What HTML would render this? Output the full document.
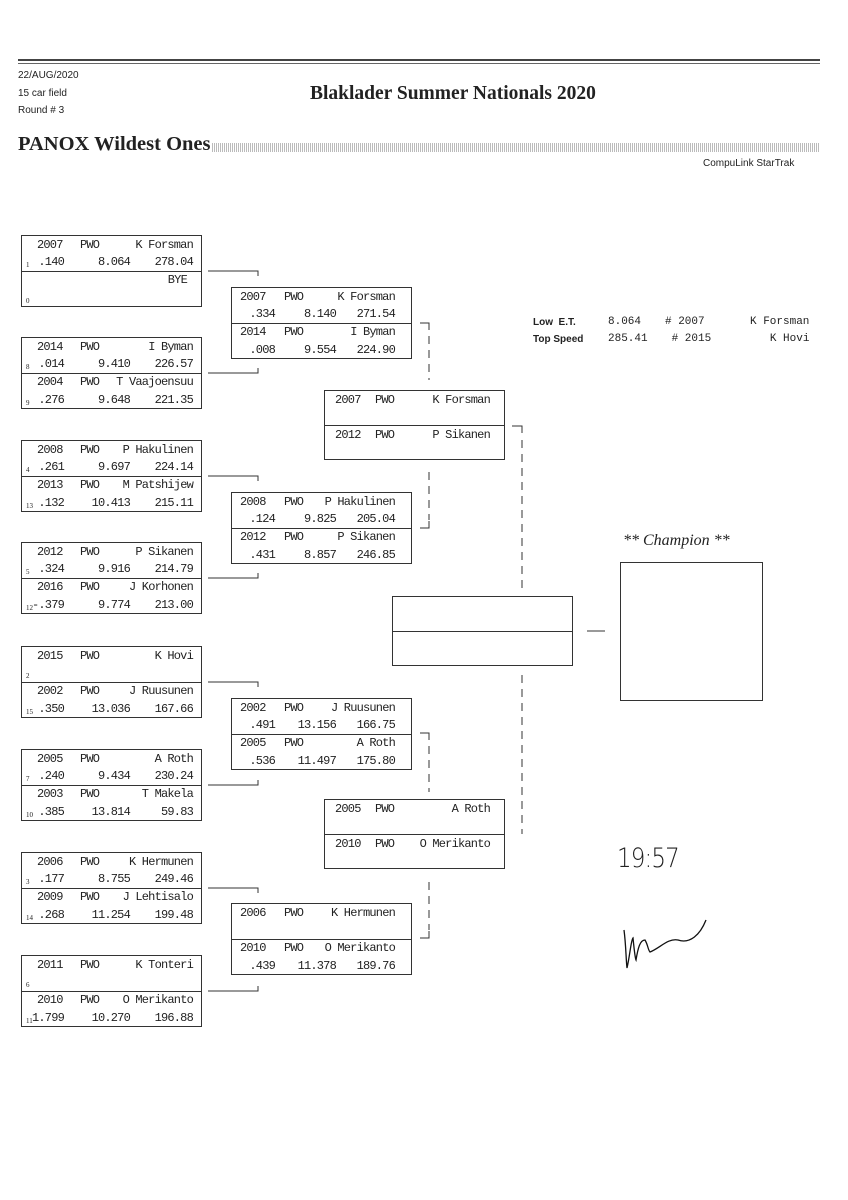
<!DOCTYPE html>
<html><head><meta charset="utf-8"><style>
body{margin:0;width:848px;height:1200px;background:#fff;position:relative;overflow:hidden;color:#222}
.a{position:absolute;white-space:nowrap}
.b{position:absolute;border:1px solid #333;width:179px;height:70px;font-family:"Liberation Mono",monospace;font-size:12px;letter-spacing:-0.8px}
.b .d{position:absolute;left:0;right:0;top:35px;border-top:1px solid #333}
.b span{position:absolute;white-space:nowrap;line-height:14px}
.s{font-family:"Liberation Serif",serif;font-size:7px!important;letter-spacing:0}
.hd{font-family:"Liberation Sans",sans-serif;font-size:10px}
</style></head><body>
<div class="a" style="left:18px;top:59px;width:802px;border-top:2px solid #444"></div>
<div class="a" style="left:18px;top:63px;width:802px;border-top:1px solid #666"></div>
<div class="a hd" style="left:18px;top:70px">22/AUG/2020</div>
<div class="a hd" style="left:18px;top:88px">15 car field</div>
<div class="a hd" style="left:18px;top:105px">Round # 3</div>
<div class="a" style="left:310px;top:83px;font-family:'Liberation Serif',serif;font-weight:bold;font-size:19.5px">Blaklader Summer Nationals 2020</div>
<div class="a" style="left:18px;top:133px;font-family:'Liberation Serif',serif;font-weight:bold;font-size:20.5px">PANOX Wildest Ones</div>
<div class="a" style="left:212px;top:143px;width:608px;height:9px;background:repeating-linear-gradient(90deg,#bbb 0 1px,#fff 1px 2px)"></div>
<div class="a hd" style="left:703px;top:158px">CompuLink StarTrak</div>

<div class="a" style="left:533px;top:314px;font-family:'Liberation Sans',sans-serif;font-weight:bold;font-size:10px;line-height:17px">Low&nbsp; E.T.<br>Top Speed</div>
<div class="a" style="left:608px;top:314px;font-family:'Liberation Mono',monospace;font-size:11px;line-height:17px">8.064<br>285.41</div>
<div class="a" style="left:665px;top:314px;font-family:'Liberation Mono',monospace;font-size:11px;line-height:17px">#&nbsp;2007<br>&nbsp;#&nbsp;2015</div>
<div class="a" style="left:750px;top:314px;font-family:'Liberation Mono',monospace;font-size:11px;line-height:17px;text-align:right">K Forsman<br>K Hovi</div>

<!-- Round 1 -->
<div class="b" style="left:21px;top:235px"><span style="left:15px;top:2px">2007</span><span style="left:58px;top:2px">PWO</span><span style="right:8px;top:2px">K Forsman</span><span class="s" style="left:4px;top:22px">1</span><span style="right:137px;top:19px">.140</span><span style="right:71px;top:19px">8.064</span><span style="right:8px;top:19px">278.04</span><div class="d"></div><span style="right:14px;top:37px">BYE</span><span class="s" style="left:4px;top:58px">0</span></div>
<div class="b" style="left:21px;top:337px"><span style="left:15px;top:2px">2014</span><span style="left:58px;top:2px">PWO</span><span style="right:8px;top:2px">I Byman</span><span class="s" style="left:4px;top:22px">8</span><span style="right:137px;top:19px">.014</span><span style="right:71px;top:19px">9.410</span><span style="right:8px;top:19px">226.57</span><div class="d"></div><span style="left:15px;top:37px">2004</span><span style="left:58px;top:37px">PWO</span><span style="right:8px;top:37px">T Vaajoensuu</span><span class="s" style="left:4px;top:58px">9</span><span style="right:137px;top:55px">.276</span><span style="right:71px;top:55px">9.648</span><span style="right:8px;top:55px">221.35</span></div>
<div class="b" style="left:21px;top:440px"><span style="left:15px;top:2px">2008</span><span style="left:58px;top:2px">PWO</span><span style="right:8px;top:2px">P Hakulinen</span><span class="s" style="left:4px;top:22px">4</span><span style="right:137px;top:19px">.261</span><span style="right:71px;top:19px">9.697</span><span style="right:8px;top:19px">224.14</span><div class="d"></div><span style="left:15px;top:37px">2013</span><span style="left:58px;top:37px">PWO</span><span style="right:8px;top:37px">M Patshijew</span><span class="s" style="left:4px;top:58px">13</span><span style="right:137px;top:55px">.132</span><span style="right:71px;top:55px">10.413</span><span style="right:8px;top:55px">215.11</span></div>
<div class="b" style="left:21px;top:542px"><span style="left:15px;top:2px">2012</span><span style="left:58px;top:2px">PWO</span><span style="right:8px;top:2px">P Sikanen</span><span class="s" style="left:4px;top:22px">5</span><span style="right:137px;top:19px">.324</span><span style="right:71px;top:19px">9.916</span><span style="right:8px;top:19px">214.79</span><div class="d"></div><span style="left:15px;top:37px">2016</span><span style="left:58px;top:37px">PWO</span><span style="right:8px;top:37px">J Korhonen</span><span class="s" style="left:4px;top:58px">12</span><span style="right:137px;top:55px">-.379</span><span style="right:71px;top:55px">9.774</span><span style="right:8px;top:55px">213.00</span></div>
<div class="b" style="left:21px;top:646px"><span style="left:15px;top:2px">2015</span><span style="left:58px;top:2px">PWO</span><span style="right:8px;top:2px">K Hovi</span><span class="s" style="left:4px;top:22px">2</span><div class="d"></div><span style="left:15px;top:37px">2002</span><span style="left:58px;top:37px">PWO</span><span style="right:8px;top:37px">J Ruusunen</span><span class="s" style="left:4px;top:58px">15</span><span style="right:137px;top:55px">.350</span><span style="right:71px;top:55px">13.036</span><span style="right:8px;top:55px">167.66</span></div>
<div class="b" style="left:21px;top:749px"><span style="left:15px;top:2px">2005</span><span style="left:58px;top:2px">PWO</span><span style="right:8px;top:2px">A Roth</span><span class="s" style="left:4px;top:22px">7</span><span style="right:137px;top:19px">.240</span><span style="right:71px;top:19px">9.434</span><span style="right:8px;top:19px">230.24</span><div class="d"></div><span style="left:15px;top:37px">2003</span><span style="left:58px;top:37px">PWO</span><span style="right:8px;top:37px">T Makela</span><span class="s" style="left:4px;top:58px">10</span><span style="right:137px;top:55px">.385</span><span style="right:71px;top:55px">13.814</span><span style="right:8px;top:55px">59.83</span></div>
<div class="b" style="left:21px;top:852px"><span style="left:15px;top:2px">2006</span><span style="left:58px;top:2px">PWO</span><span style="right:8px;top:2px">K Hermunen</span><span class="s" style="left:4px;top:22px">3</span><span style="right:137px;top:19px">.177</span><span style="right:71px;top:19px">8.755</span><span style="right:8px;top:19px">249.46</span><div class="d"></div><span style="left:15px;top:37px">2009</span><span style="left:58px;top:37px">PWO</span><span style="right:8px;top:37px">J Lehtisalo</span><span class="s" style="left:4px;top:58px">14</span><span style="right:137px;top:55px">.268</span><span style="right:71px;top:55px">11.254</span><span style="right:8px;top:55px">199.48</span></div>
<div class="b" style="left:21px;top:955px"><span style="left:15px;top:2px">2011</span><span style="left:58px;top:2px">PWO</span><span style="right:8px;top:2px">K Tonteri</span><span class="s" style="left:4px;top:22px">6</span><div class="d"></div><span style="left:15px;top:37px">2010</span><span style="left:58px;top:37px">PWO</span><span style="right:8px;top:37px">O Merikanto</span><span class="s" style="left:4px;top:58px">11</span><span style="right:137px;top:55px">1.799</span><span style="right:71px;top:55px">10.270</span><span style="right:8px;top:55px">196.88</span></div>

<!-- Round 2 -->
<div class="b" style="left:231px;top:287px"><span style="left:8px;top:2px">2007</span><span style="left:52px;top:2px">PWO</span><span style="right:16px;top:2px">K Forsman</span><span style="right:136px;top:19px">.334</span><span style="right:75px;top:19px">8.140</span><span style="right:16px;top:19px">271.54</span><div class="d"></div><span style="left:8px;top:37px">2014</span><span style="left:52px;top:37px">PWO</span><span style="right:16px;top:37px">I Byman</span><span style="right:136px;top:55px">.008</span><span style="right:75px;top:55px">9.554</span><span style="right:16px;top:55px">224.90</span></div>
<div class="b" style="left:231px;top:492px"><span style="left:8px;top:2px">2008</span><span style="left:52px;top:2px">PWO</span><span style="right:16px;top:2px">P Hakulinen</span><span style="right:136px;top:19px">.124</span><span style="right:75px;top:19px">9.825</span><span style="right:16px;top:19px">205.04</span><div class="d"></div><span style="left:8px;top:37px">2012</span><span style="left:52px;top:37px">PWO</span><span style="right:16px;top:37px">P Sikanen</span><span style="right:136px;top:55px">.431</span><span style="right:75px;top:55px">8.857</span><span style="right:16px;top:55px">246.85</span></div>
<div class="b" style="left:231px;top:698px"><span style="left:8px;top:2px">2002</span><span style="left:52px;top:2px">PWO</span><span style="right:16px;top:2px">J Ruusunen</span><span style="right:136px;top:19px">.491</span><span style="right:75px;top:19px">13.156</span><span style="right:16px;top:19px">166.75</span><div class="d"></div><span style="left:8px;top:37px">2005</span><span style="left:52px;top:37px">PWO</span><span style="right:16px;top:37px">A Roth</span><span style="right:136px;top:55px">.536</span><span style="right:75px;top:55px">11.497</span><span style="right:16px;top:55px">175.80</span></div>
<div class="b" style="left:231px;top:903px"><span style="left:8px;top:2px">2006</span><span style="left:52px;top:2px">PWO</span><span style="right:16px;top:2px">K Hermunen</span><div class="d"></div><span style="left:8px;top:37px">2010</span><span style="left:52px;top:37px">PWO</span><span style="right:16px;top:37px">O Merikanto</span><span style="right:136px;top:55px">.439</span><span style="right:75px;top:55px">11.378</span><span style="right:16px;top:55px">189.76</span></div>

<!-- Round 3 -->
<div class="b" style="left:324px;top:390px;height:68px"><span style="left:10px;top:2px">2007</span><span style="left:50px;top:2px">PWO</span><span style="right:14px;top:2px">K Forsman</span><div class="d" style="top:34px"></div><span style="left:10px;top:37px">2012</span><span style="left:50px;top:37px">PWO</span><span style="right:14px;top:37px">P Sikanen</span></div>
<div class="b" style="left:324px;top:799px;height:68px"><span style="left:10px;top:2px">2005</span><span style="left:50px;top:2px">PWO</span><span style="right:14px;top:2px">A Roth</span><div class="d" style="top:34px"></div><span style="left:10px;top:37px">2010</span><span style="left:50px;top:37px">PWO</span><span style="right:14px;top:37px">O Merikanto</span></div>

<!-- Final -->
<div class="b" style="left:392px;top:596px;height:68px"><div class="d" style="top:34px"></div></div>
<div class="a" style="left:623px;top:532px;font-family:'Liberation Serif',serif;font-style:italic;font-size:16px">** Champion **</div>
<div class="a" style="left:620px;top:562px;width:141px;height:137px;border:1px solid #333"></div>

<svg class="a" style="left:0;top:0" width="848" height="1200" fill="none" stroke="#333" stroke-width="1">
<g>
<path d="M208 271H258V276M208 373H258V368"/>
<path d="M208 476H258V481M208 578H258V573"/>
<path d="M208 682H258V687M208 785H258V780"/>
<path d="M208 888H258V893M208 991H258V986"/>
<path d="M420 323H429V330M420 528H429V521"/>
<path d="M420 733H429V740M420 938H429V931"/>
<path d="M512 426H522V433"/>
<path d="M587 631H605"/>
</g>
<g stroke-dasharray="8,6">
<path d="M429 336V380M429 472V520M429 746V792M429 882V930"/>
<path d="M522 440V588M522 675V834"/>
</g>
<path d="M624 930C626 945 626 960 627 968C630 955 631 940 633 938C634 948 635 958 636 960C638 948 640 940 645 940C648 945 648 950 650 952C660 948 668 938 678 940C690 944 700 935 706 920" stroke="#111" stroke-width="1.3"/>
</svg>
<div class="a" style="left:617px;top:843px;font-family:'DejaVu Sans',sans-serif;font-size:27px;font-weight:300;letter-spacing:-1px;transform:scaleX(0.85);transform-origin:left">19:57</div>
</body></html>
